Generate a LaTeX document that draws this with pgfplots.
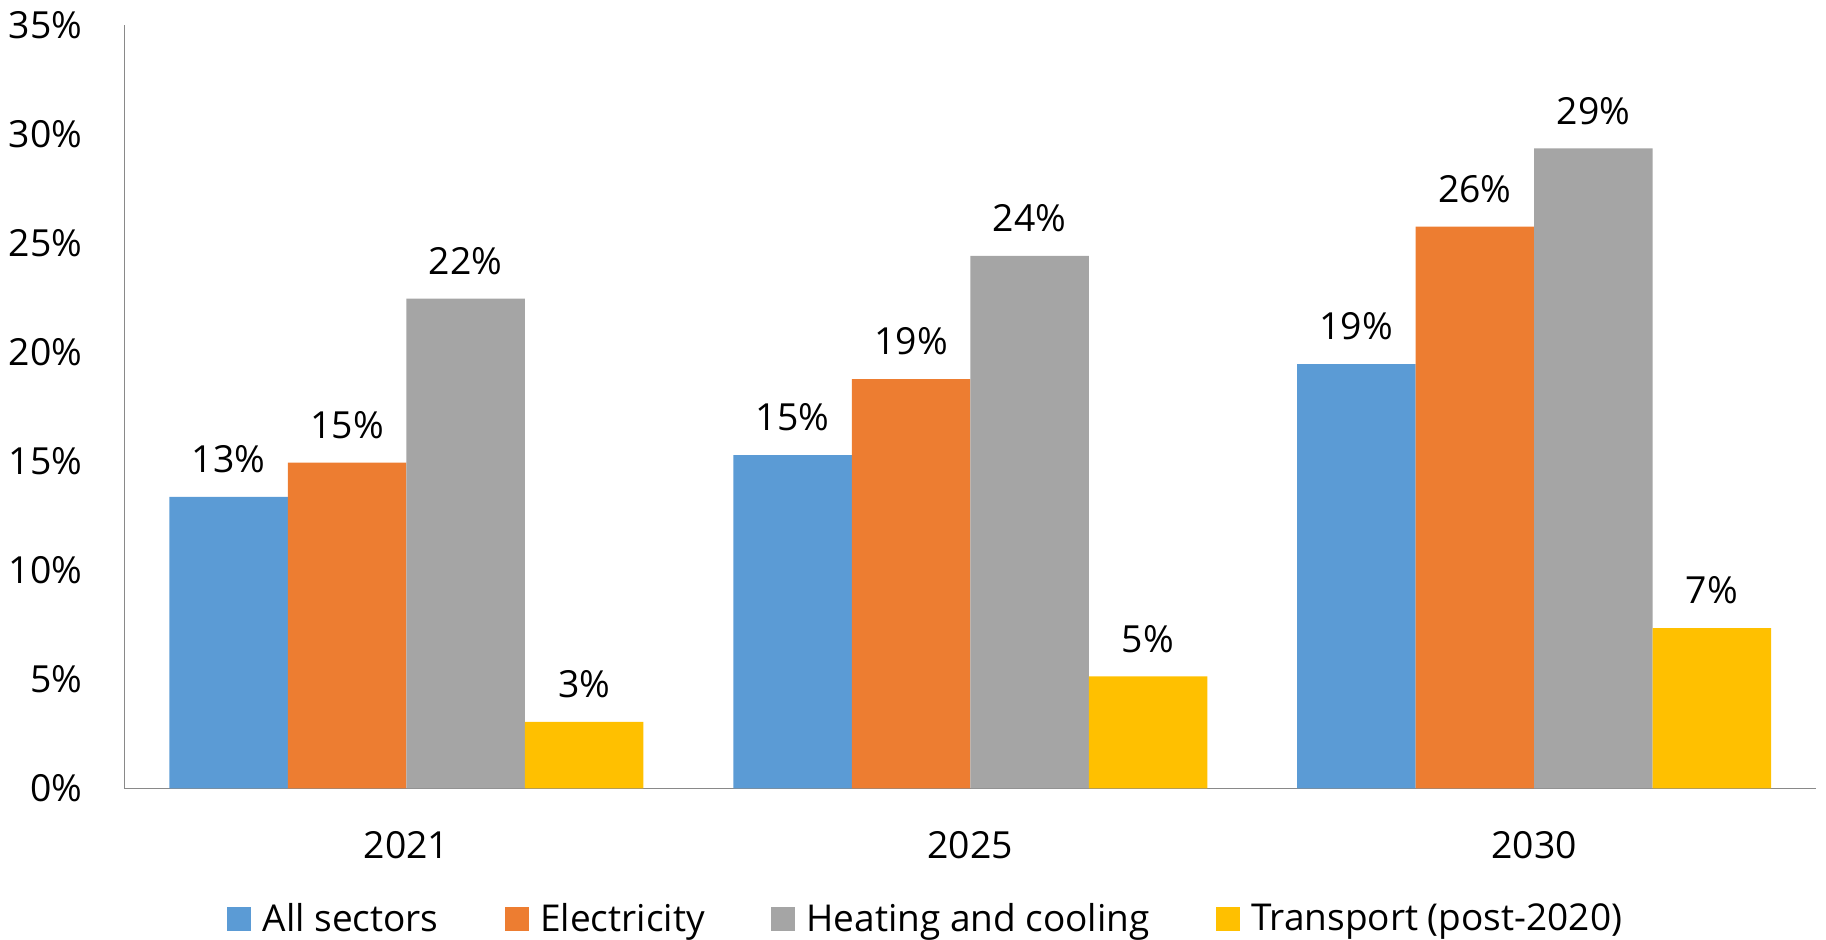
\documentclass[border=0pt]{standalone}
\usepackage{fontspec}
\setmainfont{Open Sans}
\usepackage{pgfplots}
\pgfplotsset{compat=1.18}
\definecolor{cblue}{HTML}{5B9BD5}
\definecolor{corange}{HTML}{ED7D31}
\definecolor{cgray}{HTML}{A5A5A5}
\definecolor{cyellow}{HTML}{FFC000}
\definecolor{axisgray}{HTML}{898989}
\newcommand\tickfont{\fontsize{11.2}{13}\selectfont}
\begin{document}
\begin{tikzpicture}
\begin{axis}[
  scale only axis,
  width=507.45pt, height=229pt,
  at={(0pt,0pt)}, anchor=south west,
  /pgf/number format/assume math mode=true,
  ybar=0pt, bar width=35.55pt,
  xmin=-0.5, xmax=2.5, ymin=0, ymax=35,
  enlargelimits=false,
  axis x line*=bottom, axis y line*=left,
  axis line style={-, draw=axisgray, line width=0.35pt},
  major tick length=0pt,
  xtick={0,1,2}, xticklabels={2021,2025,2030},
  ytick={0,5,...,35},
  yticklabel={\pgfmathprintnumber{\tick}\%},
  yticklabel style={font=\tickfont, anchor=east, inner sep=0pt, xshift=-12.45pt},
  xticklabel style={font=\tickfont, anchor=north, inner sep=0pt, yshift=-12.6pt},
  nodes near coords={\pgfmathprintnumber[fixed,precision=0]{\pgfplotspointmeta}\%},
  nodes near coords style={font=\tickfont, anchor=south, inner sep=0pt, yshift=7pt, text=black},
  legend columns=4,
  legend image code/.code={\fill[#1] (0pt,-3.5pt) rectangle (7.2pt,3.7pt);},
  legend style={at={(0.473,-0.172)}, anchor=center, draw=none, fill=none,
    font=\fontsize{11.1}{13}\selectfont,
    nodes={inner sep=0pt},
    /tikz/every odd column/.append style={column sep=3.5pt},
    /tikz/every even column/.append style={column sep=19.8pt}},
]
\addplot[fill=cblue, draw=none] coordinates {(0,13.36) (1,15.28) (2,19.45)};
\addlegendentry{All sectors}
\addplot[fill=corange, draw=none] coordinates {(0,14.93) (1,18.76) (2,25.76)};
\addlegendentry{Electricity}
\addplot[fill=cgray, draw=none] coordinates {(0,22.45) (1,24.42) (2,29.34)};
\addlegendentry{Heating and cooling}
\addplot[fill=cyellow, draw=none] coordinates {(0,3.05) (1,5.13) (2,7.35)};
\addlegendentry{Transport (post-2020)}
\end{axis}
\pgfresetboundingbox
\path[use as bounding box] (-37.35pt,-45.2pt) rectangle (510.45pt,236.5pt);
\end{tikzpicture}
\end{document}
